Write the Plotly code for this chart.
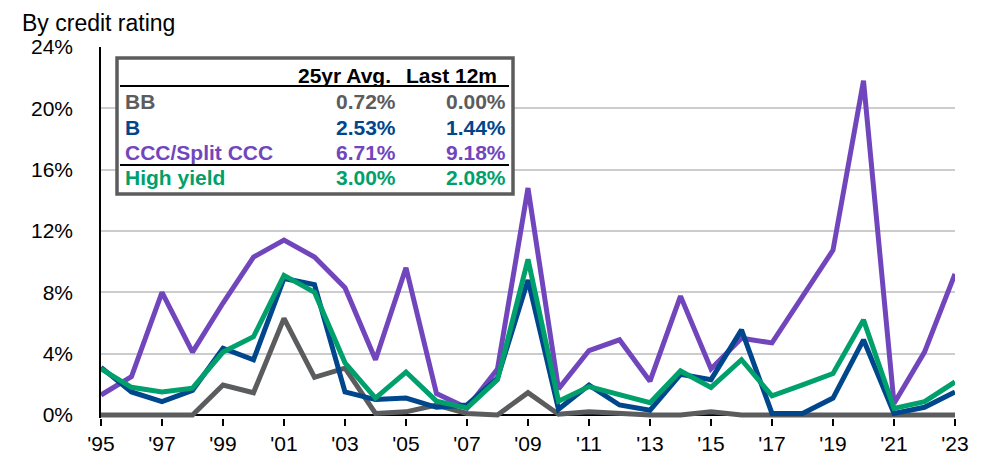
import plotly.graph_objects as go

years = list(range(1995, 2024))
bb = [0.0, 0.0, 0.0, 0.0, 1.95, 1.45, 6.3, 2.45, 3.05, 0.1, 0.2, 0.65, 0.1, 0.0, 1.45,
      0.05, 0.2, 0.1, 0.0, 0.0, 0.2, 0.0, 0.0, 0.0, 0.0, 0.0, 0.0, 0.0, 0.0]
b = [3.1, 1.5, 0.87, 1.6, 4.35, 3.6, 8.9, 8.5, 1.5, 1.0, 1.1, 0.5, 0.65, 2.4, 8.8,
     0.37, 1.95, 0.65, 0.3, 2.65, 2.3, 5.55, 0.1, 0.1, 1.1, 4.9, 0.1, 0.5, 1.5]
ccc = [1.3, 2.5, 8.0, 4.1, 7.3, 10.3, 11.4, 10.3, 8.3, 3.6, 9.6, 1.4, 0.45, 3.0, 14.8,
       1.7, 4.2, 4.9, 2.2, 7.75, 3.0, 5.0, 4.7, 7.8, 10.75, 21.8, 0.75, 4.1, 9.2]
hy = [3.0, 1.8, 1.5, 1.75, 4.1, 5.1, 9.1, 8.0, 3.4, 1.1, 2.8, 0.9, 0.45, 2.3, 10.15,
      0.9, 1.85, 1.3, 0.8, 2.87, 1.8, 3.6, 1.24, 1.96, 2.7, 6.2, 0.43, 0.87, 2.15]

tick_years = list(range(1995, 2024, 2))
tick_labels = ["'" + str(y)[2:] for y in tick_years]
y_ticks = [0, 4, 8, 12, 16, 20, 24]
y_labels = [str(v) + "%" for v in y_ticks]

row_names = ["BB", "B", "CCC/Split CCC", "High yield"]
avg_25yr = ["0.72%", "2.53%", "6.71%", "3.00%"]
last_12m = ["0.00%", "1.44%", "9.18%", "2.08%"]

GRAY = "#5B5C5E"
BLUE = "#00468C"
PURPLE = "#7146BD"
GREEN = "#00A06C"
colors = [GRAY, BLUE, PURPLE, GREEN]

FONT = "Liberation Sans, Arial, sans-serif"

fig = go.Figure()
series = [("BB", bb, GRAY), ("CCC/Split CCC", ccc, PURPLE), ("B", b, BLUE), ("High yield", hy, GREEN)]
for name, vals, col in series:
    fig.add_trace(go.Scatter(x=years, y=vals, name=name, mode="lines",
                             line=dict(color=col, width=5), cliponaxis=False))

# page body has an 8px margin; work in window pixels and subtract it
OFF = 8
FW, FH = 990 - OFF, 458 - OFF
L, R, T, B_ = 101, 955, 47, 418   # plot area in window pixels
W, H = R - L, B_ - T


def px(xp):
    return (xp - L) / W


def py(yp):
    return (B_ - yp) / H


shapes = [
    dict(type="rect", xref="paper", yref="paper", x0=px(117), x1=px(513), y0=py(194), y1=py(58),
         line=dict(color=GRAY, width=3.5), fillcolor="white", layer="above"),
    dict(type="line", xref="paper", yref="paper", x0=px(120), x1=px(509), y0=py(86), y1=py(86),
         line=dict(color="black", width=2), layer="above"),
    dict(type="line", xref="paper", yref="paper", x0=px(120), x1=px(509), y0=py(165), y1=py(165),
         line=dict(color="black", width=2), layer="above"),
]

ann = []
fs = 21
ann.append(dict(text="<b>25yr Avg.</b>", x=px(393), y=py(75), xanchor="right", yanchor="middle"))
ann.append(dict(text="<b>Last 12m</b>", x=px(499), y=py(75), xanchor="right", yanchor="middle"))
row_y = [101, 127, 152, 177]
for name, a, l12, col, yy in zip(row_names, avg_25yr, last_12m, colors, row_y):
    ann.append(dict(text="<b>" + name + "</b>", x=px(123), y=py(yy), xanchor="left", yanchor="middle",
                    font=dict(color=col, size=fs, family=FONT)))
    ann.append(dict(text="<b>" + a + "</b>", x=px(398), y=py(yy), xanchor="right", yanchor="middle",
                    font=dict(color=col, size=fs, family=FONT)))
    ann.append(dict(text="<b>" + l12 + "</b>", x=px(508), y=py(yy), xanchor="right", yanchor="middle",
                    font=dict(color=col, size=fs, family=FONT)))
for a_ in ann:
    a_.update(xref="paper", yref="paper", showarrow=False)
    a_.setdefault("font", dict(color="black", size=fs, family=FONT))

ann.append(dict(text="By credit rating", xref="paper", yref="paper", x=px(20), y=py(8),
                xanchor="left", yanchor="top", showarrow=False,
                font=dict(color="black", size=23, family=FONT)))

fig.update_layout(
    width=FW, height=FH,
    margin=dict(l=L - OFF, r=FW - (R - OFF), t=T - OFF, b=FH - (B_ - OFF), pad=0, autoexpand=False),
    paper_bgcolor="white", plot_bgcolor="white",
    showlegend=False,
    font=dict(family=FONT, size=22, color="black"),
    shapes=shapes, annotations=ann,
    xaxis=dict(range=[1995, 2023], tickvals=tick_years, ticktext=tick_labels,
               showgrid=False, zeroline=False, showline=False, automargin=False,
               ticks="outside", ticklen=7, tickwidth=2, tickcolor="black",
               ticklabelstandoff=0,
               tickfont=dict(size=21, family=FONT, color="black")),
    yaxis=dict(range=[-0.2, 24], tickvals=y_ticks, ticktext=y_labels, automargin=False,
               showgrid=True, gridcolor="#CCCCCC", gridwidth=1.5,
               zeroline=True, zerolinecolor="black", zerolinewidth=1.5,
               showline=True, linecolor="black", linewidth=1.5,
               ticks="", ticklabelstandoff=22,
               tickfont=dict(size=21, family=FONT, color="black")),
)

fig.write_html("out.html")
